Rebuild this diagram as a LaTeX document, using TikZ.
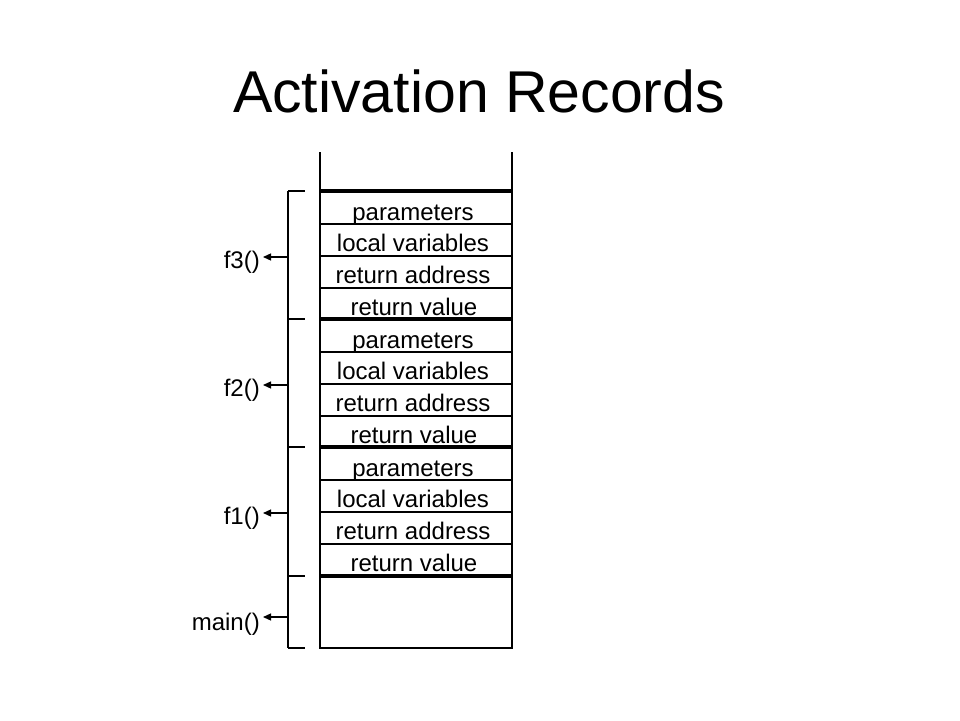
\documentclass[tikz,border=0pt]{standalone}
\usepackage{fontspec}
\setmainfont{Liberation Sans}
\usetikzlibrary{arrows.meta}
\begin{document}
\begin{tikzpicture}[x=1pt,y=-1pt,
  thin line/.style={line width=1.3pt},
  thick line/.style={line width=4pt},
  cell/.style={inner sep=0pt,font=\fontsize{24}{24}\selectfont,anchor=base},
  lbl/.style={anchor=base east,inner sep=0pt,font=\fontsize{24}{24}\selectfont},
  arr/.style={line width=1.3pt,-{Triangle[length=8pt,width=7pt]}}]
\useasboundingbox (0,0) rectangle (960,720);
\node[font=\fontsize{59}{59}\selectfont,anchor=base,inner sep=0pt] (title) at (479,112) {Activation Records};
% stack outline
\draw[thin line] (320,152) -- (320,648) -- (512,648) -- (512,152);
% frames
\foreach \f/\t in {3/191,2/319,1/447}{
  \node[cell] (p\f) at (413,\t+29) {parameters};
  \node[cell] (l\f) at (413,\t+60) {local variables};
  \node[cell] (r\f) at (413,\t+92) {return address};
  \node[cell] (v\f) at (414,\t+124) {return value};
  \draw[thin line] (320,\t+33) -- (512,\t+33);
  \draw[thin line] (320,\t+65) -- (512,\t+65);
  \draw[thin line] (320,\t+97) -- (512,\t+97);
}
\foreach \y in {191,319,447,576}{
  \draw[thick line] (320,\y) -- (512,\y);
}
% bracket
\draw[thin line] (288,191) -- (288,648);
\foreach \y in {191,319,447,576,648}{
  \draw[thin line] (288,\y) -- (305,\y);
}
\node[lbl] (f3) at (260,268) {f3()};
\node[lbl] (f2) at (260,396) {f2()};
\node[lbl] (f1) at (260,524) {f1()};
\node[lbl] (main) at (260,630) {main()};
\coordinate (b3) at (288,257);
\coordinate (b2) at (288,385);
\coordinate (b1) at (288,513);
\coordinate (bm) at (288,617);
\draw[arr] (b3) -- ([xshift=3pt]f3.east |- b3);
\draw[arr] (b2) -- ([xshift=3pt]f2.east |- b2);
\draw[arr] (b1) -- ([xshift=3pt]f1.east |- b1);
\draw[arr] (bm) -- ([xshift=3pt]main.east |- bm);
\end{tikzpicture}
\end{document}
